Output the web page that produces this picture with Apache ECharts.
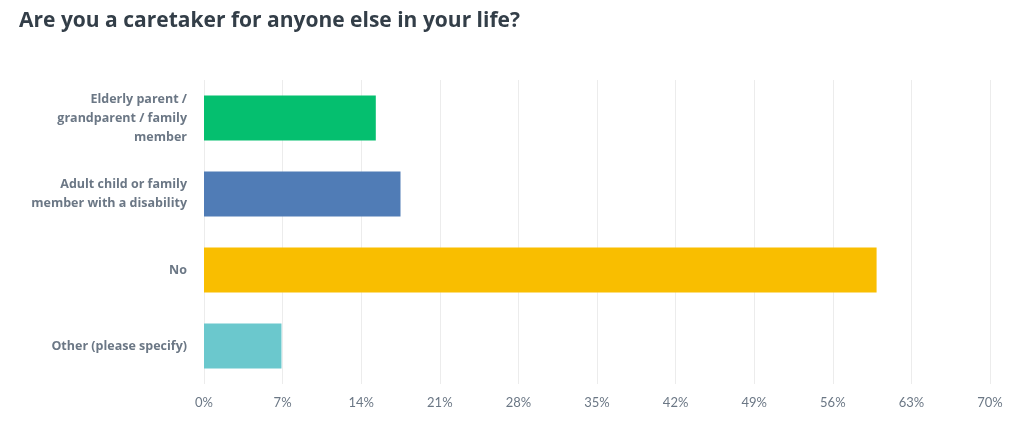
<!DOCTYPE html>
<html>
<head>
<meta charset="utf-8">
<script src="https://cdn.jsdelivr.net/npm/echarts@6/dist/echarts.min.js"></script>
<style>
  html, body { margin: 0; padding: 0; background: #fff; }
  #chart { width: 1024px; height: 438px; }
</style>
</head>
<body>
<div id="chart"></div>
<script>
// answer options, top to bottom
const categories = [
  'Elderly parent /\ngrandparent / family\nmember',
  'Adult child or family\nmember with a disability',
  'No',
  'Other (please specify)'
]
const percentages = [15.3, 17.5, 59.9, 6.9]
const barColors = ['#05bf6f', '#507cb6', '#f9be00', '#6bc8cd']
const axisTicks = [0, 7, 14, 21, 28, 35, 42, 49, 56, 63, 70]

const chart = echarts.init(document.getElementById('chart'))

chart.setOption({
  animation: false,
  title: {
    text: 'Are you a caretaker for anyone else in your life?',
    left: 14,
    top: 6,
    textStyle: {
      fontFamily: 'Open Sans',
      fontWeight: 'bold',
      fontSize: 21,
      color: '#333e48'
    }
  },
  grid: { left: 204, right: 34, top: 80, bottom: 54 },
  xAxis: {
    type: 'value',
    min: axisTicks[0],
    max: axisTicks[axisTicks.length - 1],
    interval: 7,
    axisLine: { show: false },
    axisTick: { show: false },
    splitLine: { lineStyle: { color: '#ececec', width: 1 } },
    axisLabel: {
      formatter: '{value}%',
      margin: 12,
      color: '#6b7785',
      fontFamily: 'Lato',
      fontSize: 13
    }
  },
  yAxis: {
    type: 'category',
    inverse: true,
    data: categories,
    axisLine: { show: false },
    axisTick: { show: false },
    axisLabel: {
      margin: 17,
      color: '#6b7785',
      fontFamily: 'Open Sans',
      fontWeight: 'bold',
      fontSize: 12.5,
      lineHeight: 19,
      align: 'right'
    }
  },
  series: [{
    type: 'bar',
    barWidth: 45,
    data: percentages.map((v, i) => ({
      value: v,
      itemStyle: { color: barColors[i] }
    }))
  }]
})
</script>
</body>
</html>
